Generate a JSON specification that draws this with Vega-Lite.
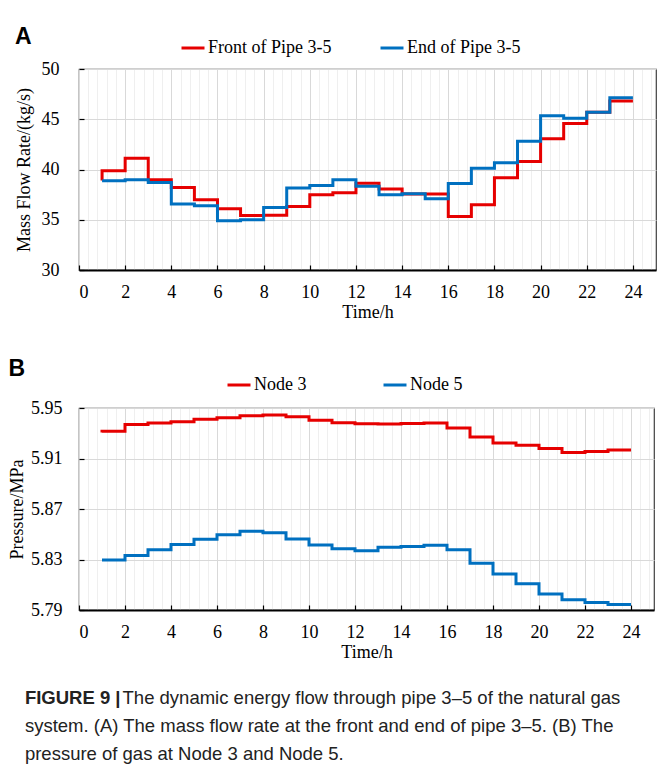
{
  "$schema": "https://vega.github.io/schema/vega-lite/v6.json",
  "padding": {"left": 7, "top": 25, "right": 4, "bottom": 4},
  "background": "white",
  "config": {
    "view": {"stroke": "#404040", "strokeWidth": 1.2},
    "axis": {
      "labelFont": "Liberation Serif", "labelFontSize": 18, "labelColor": "#000",
      "titleFont": "Liberation Serif", "titleFontSize": 18, "titleFontWeight": "normal", "titleColor": "#000",
      "tickColor": "#000", "tickWidth": 1.2
    },
    "legend": {
      "labelFont": "Liberation Serif", "labelFontSize": 18, "labelColor": "#000",
      "symbolType": "stroke", "symbolStrokeWidth": 3, "symbolSize": 529,
      "labelOffset": 2, "padding": 0, "labelLimit": 400, "title": null, "direction": "horizontal"
    }
  },
  "datasets": {
    "flow": [
      {"t": 1, "v": 38.9, "s": "Front of Pipe 3-5"},
      {"t": 1, "v": 39.87, "s": "Front of Pipe 3-5"},
      {"t": 2, "v": 41.13, "s": "Front of Pipe 3-5"},
      {"t": 3, "v": 38.97, "s": "Front of Pipe 3-5"},
      {"t": 4, "v": 38.21, "s": "Front of Pipe 3-5"},
      {"t": 5, "v": 36.99, "s": "Front of Pipe 3-5"},
      {"t": 6, "v": 36.09, "s": "Front of Pipe 3-5"},
      {"t": 7, "v": 35.43, "s": "Front of Pipe 3-5"},
      {"t": 8, "v": 35.45, "s": "Front of Pipe 3-5"},
      {"t": 9, "v": 36.32, "s": "Front of Pipe 3-5"},
      {"t": 10, "v": 37.48, "s": "Front of Pipe 3-5"},
      {"t": 11, "v": 37.68, "s": "Front of Pipe 3-5"},
      {"t": 12, "v": 38.64, "s": "Front of Pipe 3-5"},
      {"t": 13, "v": 38.05, "s": "Front of Pipe 3-5"},
      {"t": 14, "v": 37.55, "s": "Front of Pipe 3-5"},
      {"t": 15, "v": 37.55, "s": "Front of Pipe 3-5"},
      {"t": 16, "v": 35.33, "s": "Front of Pipe 3-5"},
      {"t": 17, "v": 36.49, "s": "Front of Pipe 3-5"},
      {"t": 18, "v": 39.17, "s": "Front of Pipe 3-5"},
      {"t": 19, "v": 40.79, "s": "Front of Pipe 3-5"},
      {"t": 20, "v": 43.05, "s": "Front of Pipe 3-5"},
      {"t": 21, "v": 44.57, "s": "Front of Pipe 3-5"},
      {"t": 22, "v": 45.7, "s": "Front of Pipe 3-5"},
      {"t": 23, "v": 46.82, "s": "Front of Pipe 3-5"},
      {"t": 24, "v": 46.82, "s": "Front of Pipe 3-5"},
      {"t": 1, "v": 38.87, "s": "End of Pipe 3-5"},
      {"t": 2, "v": 38.97, "s": "End of Pipe 3-5"},
      {"t": 3, "v": 38.71, "s": "End of Pipe 3-5"},
      {"t": 4, "v": 36.56, "s": "End of Pipe 3-5"},
      {"t": 5, "v": 36.39, "s": "End of Pipe 3-5"},
      {"t": 6, "v": 34.9, "s": "End of Pipe 3-5"},
      {"t": 7, "v": 35.0, "s": "End of Pipe 3-5"},
      {"t": 8, "v": 36.23, "s": "End of Pipe 3-5"},
      {"t": 9, "v": 38.15, "s": "End of Pipe 3-5"},
      {"t": 10, "v": 38.41, "s": "End of Pipe 3-5"},
      {"t": 11, "v": 38.97, "s": "End of Pipe 3-5"},
      {"t": 12, "v": 38.33, "s": "End of Pipe 3-5"},
      {"t": 13, "v": 37.48, "s": "End of Pipe 3-5"},
      {"t": 14, "v": 37.58, "s": "End of Pipe 3-5"},
      {"t": 15, "v": 37.09, "s": "End of Pipe 3-5"},
      {"t": 16, "v": 38.61, "s": "End of Pipe 3-5"},
      {"t": 17, "v": 40.13, "s": "End of Pipe 3-5"},
      {"t": 18, "v": 40.66, "s": "End of Pipe 3-5"},
      {"t": 19, "v": 42.81, "s": "End of Pipe 3-5"},
      {"t": 20, "v": 45.36, "s": "End of Pipe 3-5"},
      {"t": 21, "v": 45.1, "s": "End of Pipe 3-5"},
      {"t": 22, "v": 45.7, "s": "End of Pipe 3-5"},
      {"t": 23, "v": 47.15, "s": "End of Pipe 3-5"},
      {"t": 24, "v": 47.15, "s": "End of Pipe 3-5"}
    ],
    "pressure": [
      {"t": 1, "v": 5.9305, "s": "Node 3"},
      {"t": 1, "v": 5.9315, "s": "Node 3"},
      {"t": 2, "v": 5.937, "s": "Node 3"},
      {"t": 3, "v": 5.9381, "s": "Node 3"},
      {"t": 4, "v": 5.9392, "s": "Node 3"},
      {"t": 5, "v": 5.941, "s": "Node 3"},
      {"t": 6, "v": 5.9423, "s": "Node 3"},
      {"t": 7, "v": 5.9439, "s": "Node 3"},
      {"t": 8, "v": 5.9444, "s": "Node 3"},
      {"t": 9, "v": 5.9431, "s": "Node 3"},
      {"t": 10, "v": 5.9402, "s": "Node 3"},
      {"t": 11, "v": 5.9384, "s": "Node 3"},
      {"t": 12, "v": 5.9376, "s": "Node 3"},
      {"t": 13, "v": 5.9373, "s": "Node 3"},
      {"t": 14, "v": 5.9378, "s": "Node 3"},
      {"t": 15, "v": 5.9381, "s": "Node 3"},
      {"t": 16, "v": 5.9341, "s": "Node 3"},
      {"t": 17, "v": 5.927, "s": "Node 3"},
      {"t": 18, "v": 5.9222, "s": "Node 3"},
      {"t": 19, "v": 5.9204, "s": "Node 3"},
      {"t": 20, "v": 5.918, "s": "Node 3"},
      {"t": 21, "v": 5.9148, "s": "Node 3"},
      {"t": 22, "v": 5.9156, "s": "Node 3"},
      {"t": 23, "v": 5.9167, "s": "Node 3"},
      {"t": 24, "v": 5.9167, "s": "Node 3"},
      {"t": 1, "v": 5.8296, "s": "Node 5"},
      {"t": 2, "v": 5.8331, "s": "Node 5"},
      {"t": 3, "v": 5.8378, "s": "Node 5"},
      {"t": 4, "v": 5.8418, "s": "Node 5"},
      {"t": 5, "v": 5.846, "s": "Node 5"},
      {"t": 6, "v": 5.8497, "s": "Node 5"},
      {"t": 7, "v": 5.8524, "s": "Node 5"},
      {"t": 8, "v": 5.8511, "s": "Node 5"},
      {"t": 9, "v": 5.8463, "s": "Node 5"},
      {"t": 10, "v": 5.8415, "s": "Node 5"},
      {"t": 11, "v": 5.8386, "s": "Node 5"},
      {"t": 12, "v": 5.837, "s": "Node 5"},
      {"t": 13, "v": 5.8397, "s": "Node 5"},
      {"t": 14, "v": 5.8402, "s": "Node 5"},
      {"t": 15, "v": 5.8413, "s": "Node 5"},
      {"t": 16, "v": 5.8378, "s": "Node 5"},
      {"t": 17, "v": 5.827, "s": "Node 5"},
      {"t": 18, "v": 5.8185, "s": "Node 5"},
      {"t": 19, "v": 5.8108, "s": "Node 5"},
      {"t": 20, "v": 5.8026, "s": "Node 5"},
      {"t": 21, "v": 5.7981, "s": "Node 5"},
      {"t": 22, "v": 5.796, "s": "Node 5"},
      {"t": 23, "v": 5.7944, "s": "Node 5"},
      {"t": 24, "v": 5.7944, "s": "Node 5"}
    ]
  },
  "title": {
    "text": "FIGURE 9 |",
    "subtitle": [
      "\u200b\u00a0\u00a0\u00a0\u00a0\u00a0\u00a0\u00a0\u00a0\u00a0\u00a0\u00a0\u00a0\u00a0\u00a0\u00a0\u00a0\u00a0\u00a0\u00a0The dynamic energy flow through pipe 3\u20135 of the natural gas",
      "system. (A) The mass flow rate at the front and end of pipe 3\u20135. (B) The",
      "pressure of gas at Node 3 and Node 5."
    ],
    "orient": "bottom", "anchor": "start", "frame": "bounds",
    "font": "Liberation Sans", "fontSize": 18.5, "fontWeight": "bold", "color": "#222",
    "subtitleFont": "Liberation Sans", "subtitleFontSize": 18.5, "subtitleColor": "#222",
    "subtitlePadding": -18.5, "subtitleLineHeight": 28, "offset": 27, "dx": 17
  },
  "spacing": 34,
  "resolve": {"scale": {"color": "independent"}, "legend": {"color": "independent"}},
  "vconcat": [
    {
      "width": 577, "height": 201,
      "title": {"text": "A", "anchor": "start", "frame": "bounds", "font": "Liberation Sans", "fontWeight": "bold", "fontSize": 23, "color": "#000", "dx": 0, "offset": -14},
      "data": {"name": "flow"},
      "resolve": {"axis": {"x": "independent", "y": "independent"}},
      "layer": [
        {
          "mark": {"type": "line", "strokeOpacity": 0},
          "encoding": {
            "x": {"field": "t", "type": "quantitative", "scale": {"domain": [0, 25], "nice": false},
              "axis": {"values": [0,0.4,0.8,1.2,1.6,2,2.4,2.8,3.2,3.6,4,4.4,4.8,5.2,5.6,6,6.4,6.8,7.2,7.6,8,8.4,8.8,9.2,9.6,10,10.4,10.8,11.2,11.6,12,12.4,12.8,13.2,13.6,14,14.4,14.8,15.2,15.6,16,16.4,16.8,17.2,17.6,18,18.4,18.8,19.2,19.6,20,20.4,20.8,21.2,21.6,22,22.4,22.8,23.2,23.6,24,24.4,24.8],
                "grid": true, "gridColor": "#efefef", "gridWidth": 1, "labels": false, "ticks": false, "domain": false, "title": null, "minExtent": 0, "maxExtent": 0, "orient": "bottom"}},
            "y": {"field": "v", "type": "quantitative", "scale": {"domain": [30, 50], "nice": false, "zero": false}, "axis": null}
          }
        },
        {
          "mark": {"type": "line", "interpolate": "step-after", "strokeWidth": 3},
          "encoding": {
            "x": {"field": "t", "type": "quantitative", "scale": {"domain": [0, 25], "nice": false},
              "axis": {"values": [0,2,4,6,8,10,12,14,16,18,20,22,24], "grid": true, "gridColor": "#d9d9d9", "title": "Time/h", "titlePadding": 2,
                "tickSize": -5, "labelPadding": 18, "domainColor": "#000", "domainWidth": 2, "orient": "bottom"}},
            "y": {"field": "v", "type": "quantitative", "scale": {"domain": [30, 50], "nice": false, "zero": false},
              "axis": {"values": [30, 35, 40, 45, 50], "grid": true, "gridColor": "#d9d9d9", "title": "Mass Flow Rate/(kg/s)", "titlePadding": 8,
                "tickSize": -5, "labelPadding": 25, "domain": false, "orient": "left"}},
            "color": {"field": "s", "type": "nominal",
              "scale": {"domain": ["Front of Pipe 3-5", "End of Pipe 3-5"], "range": ["#e60000", "#0070c0"]},
              "legend": {"orient": "none", "legendX": 101, "legendY": -34, "columnPadding": 42}}
          }
        }
      ]
    },
    {
      "width": 575, "height": 202,
      "title": {"text": "B", "anchor": "start", "frame": "bounds", "font": "Liberation Sans", "fontWeight": "bold", "fontSize": 23, "color": "#000", "dx": 0, "offset": -8.5},
      "data": {"name": "pressure"},
      "resolve": {"axis": {"x": "independent", "y": "independent"}},
      "layer": [
        {
          "mark": {"type": "line", "strokeOpacity": 0},
          "encoding": {
            "x": {"field": "t", "type": "quantitative", "scale": {"domain": [0, 25], "nice": false},
              "axis": {"values": [0,0.4,0.8,1.2,1.6,2,2.4,2.8,3.2,3.6,4,4.4,4.8,5.2,5.6,6,6.4,6.8,7.2,7.6,8,8.4,8.8,9.2,9.6,10,10.4,10.8,11.2,11.6,12,12.4,12.8,13.2,13.6,14,14.4,14.8,15.2,15.6,16,16.4,16.8,17.2,17.6,18,18.4,18.8,19.2,19.6,20,20.4,20.8,21.2,21.6,22,22.4,22.8,23.2,23.6,24,24.4,24.8],
                "grid": true, "gridColor": "#efefef", "gridWidth": 1, "labels": false, "ticks": false, "domain": false, "title": null, "minExtent": 0, "maxExtent": 0, "orient": "bottom"}},
            "y": {"field": "v", "type": "quantitative", "scale": {"domain": [5.79, 5.95], "nice": false, "zero": false}, "axis": null}
          }
        },
        {
          "mark": {"type": "line", "interpolate": "step-after", "strokeWidth": 3},
          "encoding": {
            "x": {"field": "t", "type": "quantitative", "scale": {"domain": [0, 25], "nice": false},
              "axis": {"values": [0,2,4,6,8,10,12,14,16,18,20,22,24], "grid": true, "gridColor": "#d9d9d9", "title": "Time/h", "titlePadding": 2,
                "tickSize": -5, "labelPadding": 18, "domainColor": "#000", "domainWidth": 2, "orient": "bottom"}},
            "y": {"field": "v", "type": "quantitative", "scale": {"domain": [5.79, 5.95], "nice": false, "zero": false},
              "axis": {"values": [5.79, 5.83, 5.87, 5.91, 5.95], "format": ".2f", "grid": true, "gridColor": "#d9d9d9", "title": "Pressure/MPa", "titlePadding": 4,
                "tickSize": -5, "labelPadding": 22, "domain": false, "orient": "left"}},
            "color": {"field": "s", "type": "nominal",
              "scale": {"domain": ["Node 3", "Node 5"], "range": ["#e60000", "#0070c0"]},
              "legend": {"orient": "none", "legendX": 147, "legendY": -36, "columnPadding": 70}}
          }
        }
      ]
    }
  ]
}
